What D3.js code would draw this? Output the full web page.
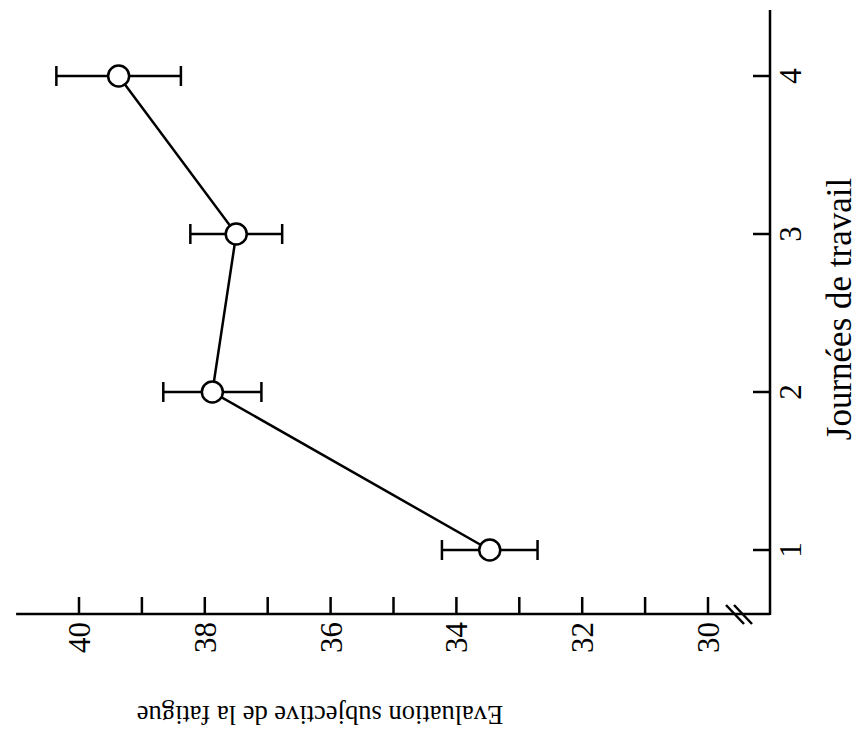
<!DOCTYPE html>
<html>
<head>
<meta charset="utf-8">
<script src="https://cdn.jsdelivr.net/npm/d3@7"></script>
<style>
  html, body { margin: 0; padding: 0; background: #fff; }
  svg { display: block; }
  text { font-family: "Liberation Serif", serif; fill: #000; }
</style>
</head>
<body>
<script>
// ---- data ----
const days = [1, 2, 3, 4];
const fatigueMean = [33.47, 37.88, 37.50, 39.37];
const fatigueErr = [0.76, 0.78, 0.73, 0.99];
const valueTicks = [30, 31, 32, 33, 34, 35, 36, 37, 38, 39, 40];
const valueTickLabels = ["30", "", "32", "", "34", "", "36", "", "38", "", "40"];
const dayTickLabels = ["1", "2", "3", "4"];
const xTitle = "Journées de travail";
const yTitle = "Evaluation subjective de la fatigue";

const W = 859, H = 742;
const svg = d3.select("body").append("svg").attr("width", W).attr("height", H);

// value scale runs horizontally (chart is rotated), day scale vertically
const v = d3.scaleLinear().domain([30, 40]).range([708, 79]);
const d = d3.scaleLinear().domain([1, 4]).range([550, 76]);

const axisY = 614;   // baseline of value axis
const axisX = 770;   // day axis position
const tickLen = 17;

const g = svg.append("g").attr("stroke", "#000").attr("fill", "none").attr("stroke-width", 2.5);

// value axis line (with break near 30)
g.append("line").attr("x1", v(41)).attr("x2", axisX).attr("y1", axisY).attr("y2", axisY);
g.selectAll(".vt").data(valueTicks).join("line")
  .attr("x1", t => v(t)).attr("x2", t => v(t))
  .attr("y1", axisY).attr("y2", axisY - tickLen);

// break marks
[0, 8].forEach(off => {
  g.append("line")
    .attr("x1", 726 + off).attr("y1", axisY - 9)
    .attr("x2", 744 + off).attr("y2", axisY + 10)
    .attr("stroke-width", 2.5);
});

// day axis
g.append("line").attr("x1", axisX).attr("x2", axisX).attr("y1", 10).attr("y2", axisY + 1);
g.selectAll(".dt").data(days).join("line")
  .attr("y1", t => d(t)).attr("y2", t => d(t))
  .attr("x1", axisX).attr("x2", axisX - tickLen);

// value tick labels (rotated -90)
svg.selectAll(".vl").data(valueTicks).join("text")
  .attr("transform", (t) => `translate(${v(t) + 11},${axisY + 8}) rotate(-90)`)
  .attr("text-anchor", "end")
  .attr("font-size", 31)
  .text((t, i) => valueTickLabels[i]);

// day tick labels (rotated -90)
svg.selectAll(".dl").data(days).join("text")
  .attr("transform", t => `translate(${axisX + 31},${d(t)}) rotate(-90)`)
  .attr("text-anchor", "middle")
  .attr("font-size", 31)
  .text((t, i) => dayTickLabels[i]);

// titles
svg.append("text")
  .attr("transform", `translate(${851},${309}) rotate(-90)`)
  .attr("text-anchor", "middle")
  .attr("font-size", 35)
  .text(xTitle);

svg.append("text")
  .attr("transform", `translate(${320},${706}) rotate(180)`)
  .attr("text-anchor", "middle")
  .attr("font-size", 26.5)
  .text(yTitle);

// data
const pts = days.map((dd, i) => ({ day: dd, m: fatigueMean[i], e: fatigueErr[i] }));

const line = d3.line().x(p => v(p.m)).y(p => d(p.day));
g.append("path").datum(pts).attr("d", line);

const capH = 10;
const eb = g.selectAll(".eb").data(pts).join("g");
eb.append("line")
  .attr("x1", p => v(p.m - p.e)).attr("x2", p => v(p.m + p.e))
  .attr("y1", p => d(p.day)).attr("y2", p => d(p.day));
eb.append("line")
  .attr("x1", p => v(p.m - p.e)).attr("x2", p => v(p.m - p.e))
  .attr("y1", p => d(p.day) - capH).attr("y2", p => d(p.day) + capH);
eb.append("line")
  .attr("x1", p => v(p.m + p.e)).attr("x2", p => v(p.m + p.e))
  .attr("y1", p => d(p.day) - capH).attr("y2", p => d(p.day) + capH);

g.selectAll(".pt").data(pts).join("circle")
  .attr("cx", p => v(p.m)).attr("cy", p => d(p.day))
  .attr("r", 10.5).attr("fill", "#fff");
</script>
</body>
</html>
